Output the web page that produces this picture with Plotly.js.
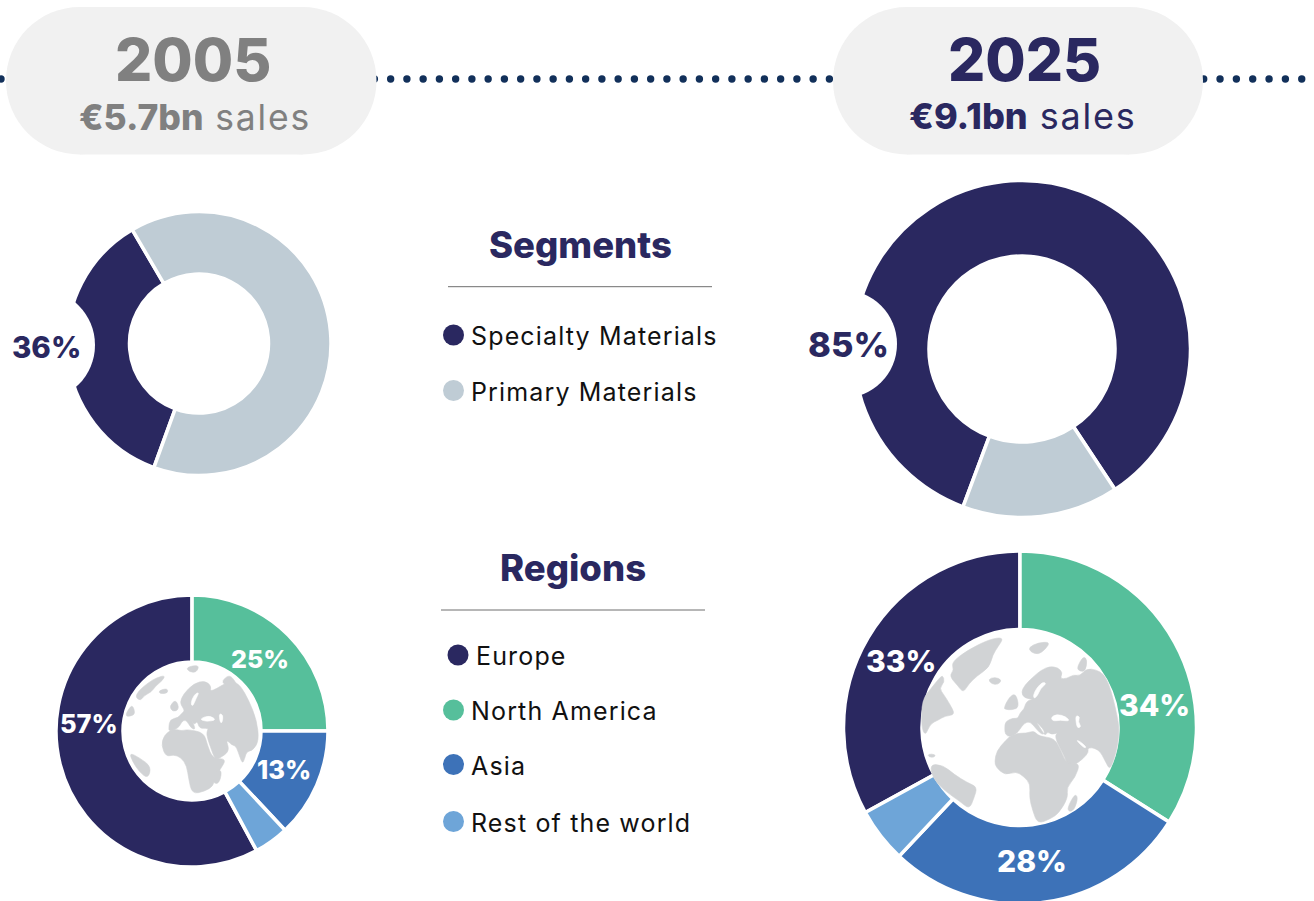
<!DOCTYPE html>
<html>
<head>
<meta charset="utf-8">
<script src="https://cdn.plot.ly/plotly-3.0.1.min.js"></script>
<style>html,body{margin:0;padding:0;background:#fff;overflow:hidden;width:1314px;height:901px}#chart{width:1314px;height:910px}</style>
</head>
<body>
<div id="chart"></div>
<script>
// ---- data ----
const segmentNames = ["Specialty Materials", "Primary Materials"];
const segments2005 = [36, 64];
const segments2025 = [85, 15];
const regionNames = ["Europe", "North America", "Asia", "Rest of the world"];
const regions2005 = [57.9, 25, 13, 4.1];
const regions2025 = [33, 34, 28, 5];
const regionLabels2005 = ["57%", "25%", "13%"];
const regionLabels2025 = ["33%", "34%", "28%"];
const segmentLabels = ["36%", "85%"];
const years = ["2005", "2025"];
const salesTexts = ["€5.7bn", "€9.1bn"];
const segmentColors = ["#2a2860", "#bfccd5"];
const regionColors = ["#2a2860", "#56bf9b", "#3d72b8", "#6ea5d8"];

const W = 1314, H = 910;
const px = x => x / W, py = y => 1 - y / H;
const NAVY = "#2a2860", GREY = "#808080", LAND = "#d1d3d5";

function donut(labels, values, colors, cx, cy, R, rIn, rotation) {
  return {
    type: "pie", labels, values, sort: false, direction: "clockwise", rotation,
    hole: rIn / R, textinfo: "none", showlegend: false, hoverinfo: "label+percent",
    marker: {colors, line: {color: "#ffffff", width: 3.5}},
    domain: {x: [px(cx - R), px(cx + R)], y: [py(cy + R), py(cy - R)]}
  };
}
const traces = [
  donut(segmentNames, segments2005, segmentColors, 199, 343.5, 132, 69.5, 200),
  donut(segmentNames, segments2025, segmentColors, 1022, 349, 168.5, 93, 200.5),
  donut(regionNames, regions2005, regionColors, 192, 731, 136, 69, 151.6),
  donut(regionNames, regions2025, regionColors, 1020, 727.5, 176.5, 98, 241.2)
];

const shapes = [];
function circle(cx, cy, r, color) {
  shapes.push({type: "circle", xref: "paper", yref: "paper", layer: "above",
    x0: px(cx - r), x1: px(cx + r), y0: py(cy + r), y1: py(cy - r),
    fillcolor: color, line: {width: 0}});
}
function rect(x0, y0, x1, y1, color) {
  shapes.push({type: "rect", xref: "paper", yref: "paper", layer: "above",
    x0: px(x0), x1: px(x1), y0: py(y1), y1: py(y0), fillcolor: color, line: {width: 0}});
}
function rule(x0, x1, y) {
  shapes.push({type: "line", xref: "paper", yref: "paper", layer: "above",
    x0: px(x0), x1: px(x1), y0: py(y), y1: py(y), line: {color: "#6e6e6e", width: 1}});
}
// dotted timeline
const DOT = "#12305a";
circle(1, 79, 3.7, DOT);
for (let i = 0; i <= 28; i++) circle(374.4 + i * 16.25, 79, 3.7, DOT);
for (let i = 0; i <= 6; i++) circle(1203.7 + i * 16.34, 79, 3.7, DOT);
// pills
function pill(x0, x1, y0, y1) {
  const r = (y1 - y0) / 2;
  circle(x0 + r, y0 + r, r, "#f1f1f1");
  circle(x1 - r, y0 + r, r, "#f1f1f1");
  rect(x0 + r, y0, x1 - r, y1, "#f1f1f1");
}
pill(6, 376.5, 7, 154.5);
pill(833, 1203, 7, 154.5);
// label notches
circle(39, 345, 56, "#ffffff");
circle(843, 344, 54, "#ffffff");
// rules
rule(448, 712, 286.7);
rule(441, 705, 610);

// ---- globes: outlines traced in crop pixels, smoothed ----
function land(pts, ox, oy, color) {
  const nums = pts.trim().split(/[\s,]+/).map(Number);
  const p = [];
  for (let i = 0; i < nums.length; i += 2) p.push([px(ox + nums[i] / 3), py(oy + nums[i + 1] / 3)]);
  const n = p.length, mid = (a, b) => [(a[0] + b[0]) / 2, (a[1] + b[1]) / 2];
  const f = v => v.toFixed(5);
  const s = mid(p[n - 1], p[0]);
  let d = "M" + f(s[0]) + "," + f(s[1]);
  for (let i = 0; i < n; i++) {
    const m = mid(p[i], p[(i + 1) % n]);
    d += "Q" + f(p[i][0]) + "," + f(p[i][1]) + " " + f(m[0]) + "," + f(m[1]);
  }
  shapes.push({type: "path", xref: "paper", yref: "paper", layer: "above",
    path: d + "Z", fillcolor: color, line: {width: 0.6, color}});
}
circle(191, 731, 69, "#ffffff");
circle(1020, 727.5, 99, "#ffffff");

const globeA = [
 "76,142 86,122 115,98 140,83 166,76 157,92 137,108 124,126 102,137 92,152",
 "146,122 172,115 174,129 150,132",
 "228,52 268,44 260,67 238,66",
 "336,92 358,74 374,92 380,104 362,110 343,104",
 "46,198 56,176 68,165 76,192 60,199",
 "58,308 88,323 124,350 114,386 88,366 68,335",
 "178,168 198,148 208,178 188,186",
 "176,234 180,208 205,203 213,192 224,183 218,172 210,158 220,132 252,100 285,92 304,108 300,124 320,116 345,100 372,94 392,108 416,150 440,210 447,272 428,302 410,304 404,326 397,342 384,304 376,286 360,284 350,274 358,304 328,326 314,326 304,298 292,264 290,246 296,234 268,236 262,212 252,226 240,202 258,238 244,236 228,208 215,215 208,230 196,238 178,244",
 "154,286 162,256 188,236 215,243 232,238 282,248 292,285 308,326 350,326 330,360 314,382 310,408 284,424 246,432 236,386 230,347 213,322 190,314 168,320",
 "306,398 322,358 336,364 327,402"
];
const seasA = [
 "268,207 298,196 320,210 287,215",
 "327,190 340,195 336,220 330,216",
 "242,160 252,134 268,126 258,146 248,170",
 "348,270 370,290 362,293"
];
const globeB = [
 "124,128 170,92 240,57 282,52 264,80 248,105 238,142 202,167 176,192 160,218 144,198 118,168 132,150",
 "234,178 255,171 276,180 264,194 245,192",
 "356,82 385,68 420,66 407,87 385,104 362,96",
 "500,144 520,108 532,120 526,154 510,154",
 "36,240 65,203 85,178 98,165 104,185 88,205 102,225 118,250 136,284 105,288 85,300 60,312 46,348 34,320",
 "54,402 76,403 74,412 56,411",
 "60,432 100,436 132,463 172,488 202,501 192,534 178,568 150,544 103,512 68,474",
 "282,264 296,233 317,219 328,262 305,270 286,268",
 "284,326 286,304 310,294 324,296 329,280 343,266 346,252 356,240 372,238 342,234 334,216 344,196 368,172 394,150 420,139 444,143 458,158 450,176 470,176 490,164 510,168 530,146 558,149 580,162 596,190 610,238 622,290 628,330 622,382 610,424 599,448 588,428 576,404 565,390 545,382 532,386 536,396 520,416 492,436 475,438 464,412 452,388 440,364 436,345 444,338 425,344 413,335 405,348 392,326 376,302 406,334 398,346 378,326 360,304 342,310 328,330 320,340 300,351 286,344",
 "254,424 260,393 286,362 310,340 350,340 372,332 387,349 432,354 450,385 464,420 480,432 510,430 496,472 470,502 474,534 446,580 422,596 383,612 368,572 358,532 361,492 342,470 318,454 285,466 258,442",
 "472,564 494,522 504,532 494,568 478,576"
];
const seasB = [
 "422,293 440,282 468,290 480,304 450,300 430,304",
 "497,286 510,290 504,305 514,320 502,325 498,305",
 "372,236 382,228 392,205 410,190 398,186 380,204 370,225",
 "498,360 522,384 530,382 510,364"
];
globeA.forEach(p => land(p, 110, 650, LAND));
seasA.forEach(p => land(p, 110, 650, "#ffffff"));
globeB.forEach(p => land(p, 910, 620, LAND));
seasB.forEach(p => land(p, 910, 620, "#ffffff"));

// ---- text ----
const annotations = [];
function txt(x, y, text, size, color, opts) {
  annotations.push(Object.assign({
    xref: "paper", yref: "paper", x: px(x), y: py(y), text, showarrow: false,
    xanchor: "center", yanchor: "middle", borderpad: 0,
    font: {family: "Inter, sans-serif", size, color}
  }, opts || {}));
}
const heavy = s => '<span style="font-weight:800">' + s + '</span>';
const spaced = (s, k) => '<span style="letter-spacing:' + k + 'px">' + s + '</span>';
txt(193, 60, heavy(years[0]), 58.5, GREY);
txt(195, 118, heavy(salesTexts[0]) + spaced(" sales", 1.8), 35.5, GREY);
txt(1024, 60, heavy(years[1]), 58.5, NAVY);
txt(1023, 115.5, heavy(salesTexts[1]) + spaced(" sales", 1.8), 36, NAVY);
txt(580, 245, heavy("Segments"), 36.5, NAVY);
txt(573, 568, heavy("Regions"), 36.5, NAVY);

function legendRow(cxDot, cy, name, color) {
  circle(cxDot, cy, 10.5, color);
  txt(cxDot + 16.5, cy + 1, spaced(name, 1.15), 25, "#111111", {xanchor: "left"});
}
const segY = [335, 390.5], regY = [655, 710, 764.5, 821.5], regX = [458, 453.5, 453.5, 453.5];
segmentNames.forEach((n, i) => legendRow(453.5, segY[i], n, segmentColors[i]));
regionNames.forEach((n, i) => legendRow(regX[i], regY[i], n, regionColors[i]));

txt(46, 347, heavy(segmentLabels[0]), 29.5, NAVY);
txt(848, 344, heavy(segmentLabels[1]), 34.5, NAVY);
txt(89, 723, heavy(regionLabels2005[0]), 25.5, "#ffffff");
txt(260, 659, heavy(regionLabels2005[1]), 25, "#ffffff");
txt(284, 769, heavy(regionLabels2005[2]), 25.5, "#ffffff");
txt(901, 661, heavy(regionLabels2025[0]), 30, "#ffffff");
txt(1154, 705, heavy(regionLabels2025[1]), 30, "#ffffff");
txt(1032, 861, heavy(regionLabels2025[2]), 30, "#ffffff");

Plotly.newPlot("chart", traces, {
  width: W, height: H, margin: {l: 0, r: 0, t: 0, b: 0},
  paper_bgcolor: "#ffffff", showlegend: false, shapes, annotations
}, {displayModeBar: false, staticPlot: true});
</script>
</body>
</html>
